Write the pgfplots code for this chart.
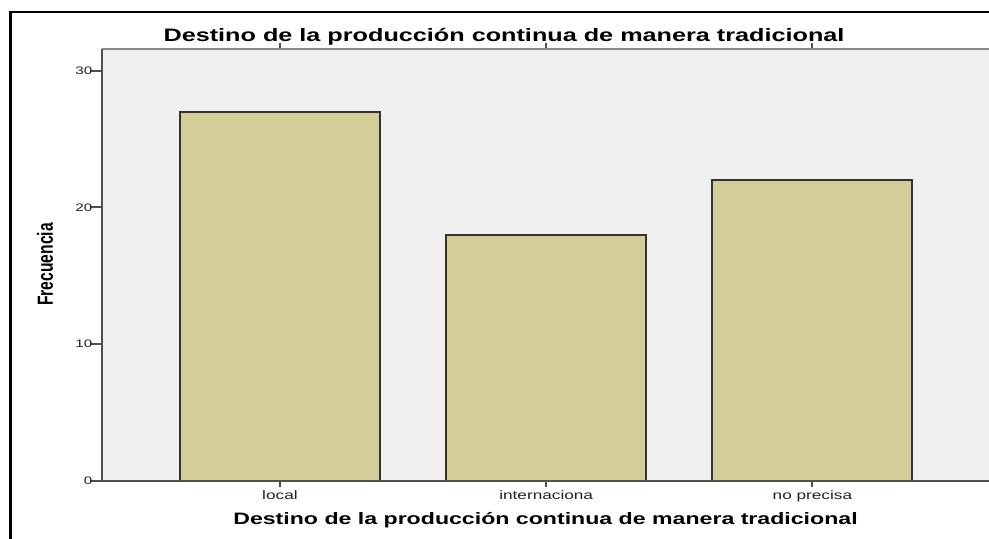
\documentclass[border=0pt]{standalone}
\usepackage{pgfplots}
\pgfplotsset{compat=1.18}
\usepackage{fontspec}
\setmainfont{Liberation Sans}
\definecolor{plotbg}{HTML}{F0F0F0}
\definecolor{barfill}{HTML}{D3CE98}
\definecolor{axdark}{HTML}{505050}
\definecolor{axtop}{HTML}{8A8A8A}
\definecolor{txt}{HTML}{222222}
% the source picture is stretched ~1.4x horizontally, text follows it
\newcommand{\wide}[1]{\scalebox{1.4}[1]{#1}}

\begin{document}
\begin{tikzpicture}[x=0.02cm, y=-0.02cm]
\path[use as bounding box] (0,0) rectangle (989,538);
\begin{scope}
\clip (0,0) rectangle (989,538);
% 1 px = 0.02cm; plot box left 102px, bottom 481px
\begin{axis}[
  at={(2.04cm,-9.62cm)}, anchor=south west,
  scale only axis,
  width=17.96cm, height=8.64cm,
  xmin=0.3315, xmax=3.704,
  ymin=0, ymax=31.59,
  axis background/.style={fill=plotbg},
  axis line style={draw=none},
  ybar, bar width=4cm,
  xtick={1,2,3},
  xticklabels={\wide{local},\wide{internaciona},\wide{no precisa}},
  ytick={0,10,20,30},
  yticklabels={\wide{0},\wide{10},\wide{20},\wide{30}},
  tick align=outside,
  xtick style={draw=axdark, line width=0.04cm, /pgfplots/major tick length=0.12cm},
  ytick style={draw=axdark, line width=0.04cm, /pgfplots/major tick length=0.24cm},
  xticklabel style={font=\fontsize{7.0}{8}\selectfont, text=txt, inner sep=1pt},
  yticklabel style={font=\fontsize{6.2}{7}\selectfont, text=txt, inner sep=1pt},
  clip=false,
]
\addplot[fill=barfill, draw=black!80, line width=0.04cm]
  coordinates {(1,27) (2,18) (3,22)};
\draw[axtop, line width=0.04cm] (rel axis cs:0,1) -- (rel axis cs:1,1);
\draw[axdark, line width=0.04cm] (rel axis cs:0,1) -- (rel axis cs:0,0) -- (rel axis cs:1,0);
\end{axis}
\end{scope}
% outer frame (only the left and top edges are in the crop)
\draw[black, line width=0.05cm] (10.5,540) -- (10.5,12) -- (990,12);
% title
\node[anchor=base, inner sep=0, text=black] at (504,41.5)
  {\fontsize{10.25}{12}\selectfont\bfseries\wide{Destino de la producción continua de manera tradicional}};
% x label
\node[anchor=base, inner sep=0, text=black] at (545.5,524)
  {\fontsize{9.4}{11}\selectfont\bfseries\wide{Destino de la producción continua de manera tradicional}};
% y label
\node[rotate=90, inner sep=0, text=black] at (45,264.5)
  {\fontsize{8.9}{10}\selectfont\bfseries\scalebox{1}[1.4]{Frecuencia}};
\end{tikzpicture}
\end{document}
